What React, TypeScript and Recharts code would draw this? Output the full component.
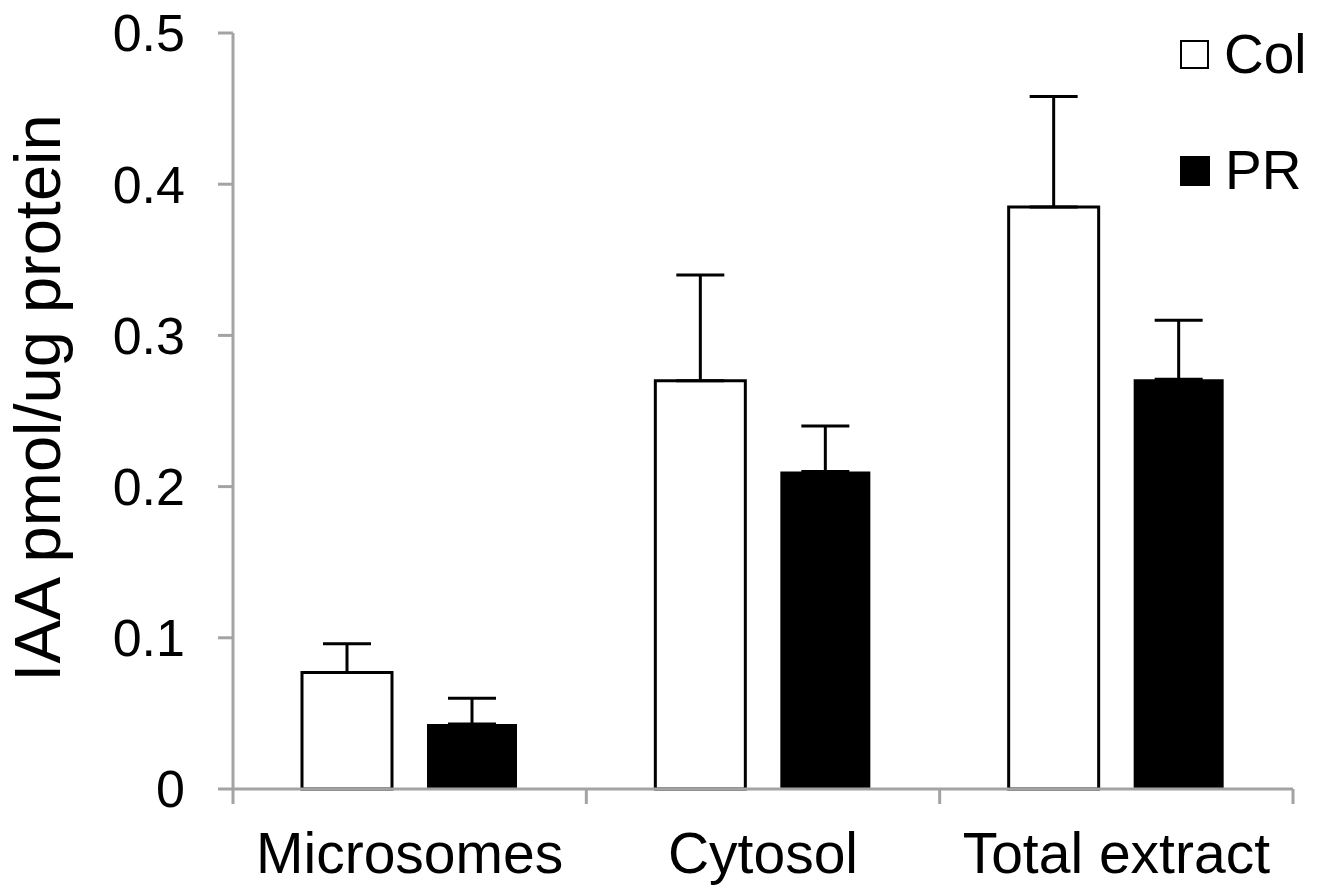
import React from "react";
import { BarChart, Bar, XAxis, YAxis, ErrorBar, Label } from "recharts";

const categories = ["Microsomes", "Cytosol", "Total extract"];
const colValues = [0.077, 0.27, 0.385];
const colErrors = [0.019, 0.07, 0.073];
const prValues = [0.043, 0.21, 0.271];
const prErrors = [0.017, 0.03, 0.039];
const yTicks = [0, 0.1, 0.2, 0.3, 0.4, 0.5];

const AXIS_GRAY = "#a3a3a3";
const FONT = '"Liberation Sans", Arial, sans-serif';
const X_TICK = 15;
const X_GAP = 29;

const data = categories.map((name, i) => ({
  name,
  col: colValues[i],
  colErr: [0, colErrors[i]],
  pr: prValues[i],
  prErr: [0, prErrors[i]],
}));

// category labels sit in the middle, tick marks on the band edges
function XTick(props: any) {
  const { x, y, payload, index } = props;
  const half = payload?.offset ?? 0;
  const axisY = y - X_TICK - X_GAP;
  const last = index === categories.length - 1;
  return (
    <g>
      <line x1={x - half} x2={x - half} y1={axisY} y2={axisY + X_TICK} stroke={AXIS_GRAY} strokeWidth={3} />
      {last && (
        <line x1={x + half} x2={x + half} y1={axisY} y2={axisY + X_TICK} stroke={AXIS_GRAY} strokeWidth={3} />
      )}
      <text x={x} y={y} dy="0.71em" textAnchor="middle" fontSize={57} fill="#000">
        {payload.value}
      </text>
    </g>
  );
}

function YTitle(props: any) {
  const { x, y, height } = props.viewBox;
  const bx = x + 60;
  const cy = y + height / 2 - 13;
  return (
    <text x={bx} y={cy} transform={`rotate(-90 ${bx} ${cy})`} textAnchor="middle" fontSize={65} fill="#000">
      IAA pmol/ug protein
    </text>
  );
}

const legendItems = [
  { label: "Col", fill: "#fff" },
  { label: "PR", fill: "#000" },
];

export default function App() {
  return (
    <div
      style={{
        position: "absolute",
        left: 0,
        top: 0,
        width: 1326,
        height: 890,
        background: "#fff",
        fontFamily: FONT,
      }}
    >
      <BarChart
        width={1326}
        height={890}
        data={data}
        margin={{ top: 33, right: 33, bottom: 0, left: 0 }}
        barSize={90}
        barGap={35}
      >
        <XAxis
          dataKey="name"
          height={101}
          axisLine={{ stroke: AXIS_GRAY, strokeWidth: 3 }}
          tickLine={false}
          tickSize={X_TICK}
          tickMargin={X_GAP}
          tick={<XTick />}
          interval={0}
        />
        <YAxis
          width={233}
          domain={[0, 0.5]}
          ticks={yTicks}
          axisLine={{ stroke: AXIS_GRAY, strokeWidth: 3 }}
          tickLine={{ stroke: AXIS_GRAY, strokeWidth: 3 }}
          tickSize={15}
          tickMargin={33}
          tick={{ fill: "#000", fontSize: 52 }}
        >
          <Label content={<YTitle />} />
        </YAxis>
        <Bar dataKey="col" fill="#fff" stroke="#000" strokeWidth={3} isAnimationActive={false}>
          <ErrorBar dataKey="colErr" width={24} stroke="#000" strokeWidth={3} direction="y" />
        </Bar>
        <Bar dataKey="pr" fill="#000" isAnimationActive={false}>
          <ErrorBar dataKey="prErr" width={24} stroke="#000" strokeWidth={3} direction="y" />
        </Bar>
      </BarChart>

      <div style={{ position: "absolute", left: 1180, top: 27 }}>
        {legendItems.map((item, i) => (
          <div
            key={item.label}
            style={{
              display: "flex",
              alignItems: "center",
              height: 55,
              lineHeight: "55px",
              fontSize: 55,
              marginBottom: i === 0 ? 61 : 0,
            }}
          >
            <span
              style={{
                display: "inline-block",
                width: item.fill === "#fff" ? 25 : 30,
                height: item.fill === "#fff" ? 25 : 30,
                background: item.fill,
                border: item.fill === "#fff" ? "2.5px solid #000" : "none",
                marginRight: 15,
              }}
            />
            <span style={{ color: "#000" }}>{item.label}</span>
          </div>
        ))}
      </div>
    </div>
  );
}
